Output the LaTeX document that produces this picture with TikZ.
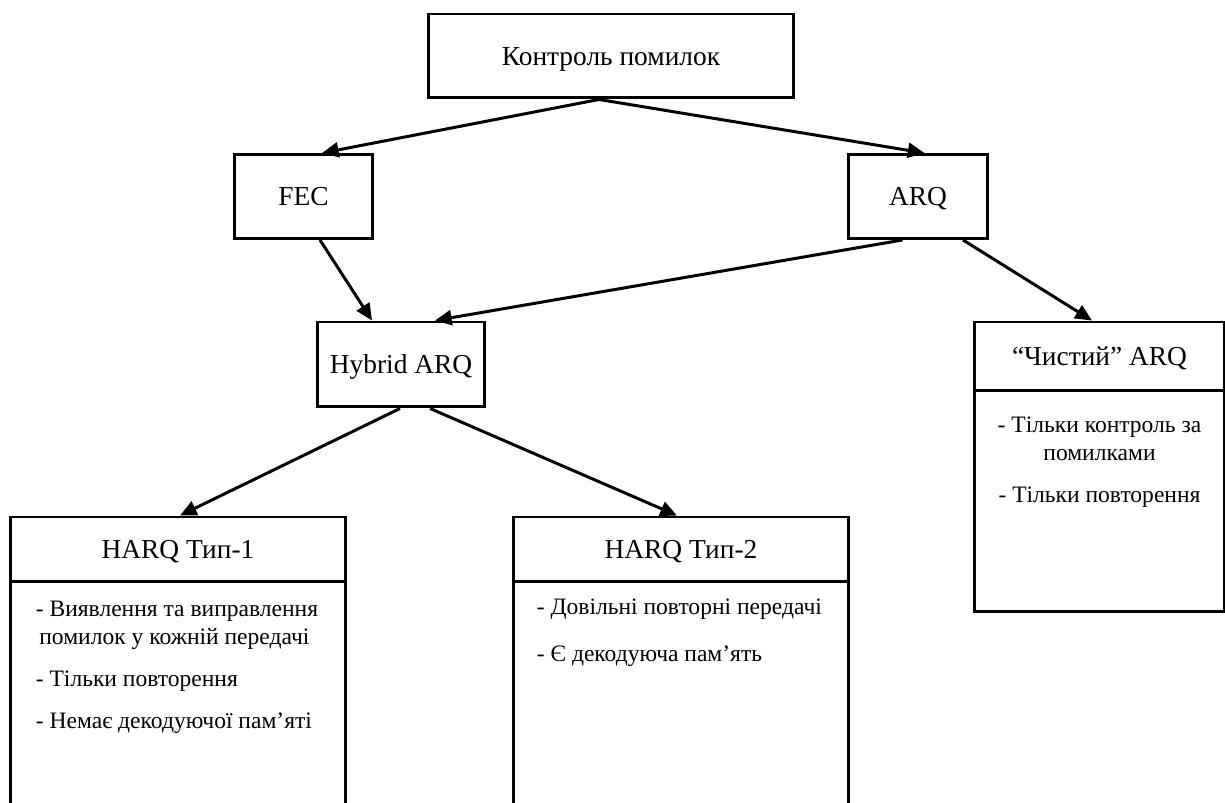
\documentclass[tikz,border=0pt]{standalone}
\usepackage{fontspec}
\setmainfont{Liberation Serif}
\usetikzlibrary{arrows.meta,positioning,calc}

\tikzset{
  box/.style={rectangle, draw=black, line width=1.7pt, inner sep=0pt,
    text height=12.5pt, text depth=2.2pt, font=\fontsize{15.6}{18}\selectfont},
  note/.style={inner sep=0pt, align=left, font=\fontsize{13.4}{15.9}\selectfont},
  link/.style={-{Triangle[length=9.5pt,width=8.5pt]}, line width=1.7pt},
}

\begin{document}
\begin{tikzpicture}[x=0.02cm,y=-0.02cm]
    \useasboundingbox (0,0) rectangle (1225,803);
    \clip (0,0) rectangle (1225,803);

    % top levels
    \node[box, minimum width=7.32cm, minimum height=1.68cm] (ctrl) at (611,56) {Контроль помилок};
    \node[box, minimum width=2.78cm, minimum height=1.68cm] (fec) at (303.5,196.5) {FEC};
    \node[box, minimum width=2.78cm, minimum height=1.68cm] (arq) at (918,196.5) {ARQ};
    \node[box, minimum width=3.36cm, minimum height=1.7cm] (hybrid) at (401,364.5) {Hybrid ARQ};

    % pure ARQ
    \node[box, minimum width=5.02cm, minimum height=1.38cm] (pure) at (1099.5,356.5) {“Чистий” ARQ};
    \node[box, minimum width=5.02cm, minimum height=4.42cm, below=-1.7pt of pure] (purebody) {};
    \node[note, align=center, anchor=north] (puretext) at ([yshift=-0.54cm]purebody.north)
        {- Тільки контроль за\\помилками\\[8pt]- Тільки повторення};

    % HARQ type 1
    \node[box, minimum width=6.72cm, minimum height=1.3cm] (harqa) at (178,549.5) {HARQ Тип-1};
    \node[box, minimum width=6.72cm, minimum height=6cm, below=-1.7pt of harqa] (harqabody) {};
    \node[note, anchor=north west] (harqatext) at ([xshift=0.54cm,yshift=-0.4cm]harqabody.north west)
        {- Виявлення та виправлення\\\hspace{2pt}помилок у кожній передачі\\[8pt]- Тільки повторення\\[8pt]- Немає декодуючої пам’яті};

    % HARQ type 2
    \node[box, minimum width=6.72cm, minimum height=1.3cm] (harqb) at (681,549.5) {HARQ Тип-2};
    \node[box, minimum width=6.72cm, minimum height=6cm, below=-1.7pt of harqb] (harqbbody) {};
    \node[note, anchor=north west] (harqbtext) at ([xshift=0.5cm,yshift=-0.36cm]harqbbody.north west)
        {- Довільні повторні передачі\\[11pt]- Є декодуюча пам’ять};

    % links
    \draw[link] ([xshift=-0.24cm]ctrl.south) -- ([xshift=0.37cm]fec.north);
    \draw[link] ([xshift=-0.24cm]ctrl.south) -- ([xshift=0.13cm]arq.north);
    \draw[link] ([xshift=0.33cm]fec.south) -- ([xshift=-0.58cm]hybrid.north);
    \draw[link] ([xshift=-0.31cm]arq.south) -- ([xshift=0.68cm]hybrid.north);
    \draw[link] ([xshift=0.9cm]arq.south) -- ([xshift=-0.15cm]pure.north);
    \draw[link] ([xshift=-0.02cm]hybrid.south) -- ([xshift=0.04cm]harqa.north);
    \draw[link] ([xshift=0.58cm]hybrid.south) -- ([xshift=-0.08cm]harqb.north);
\end{tikzpicture}
\end{document}
